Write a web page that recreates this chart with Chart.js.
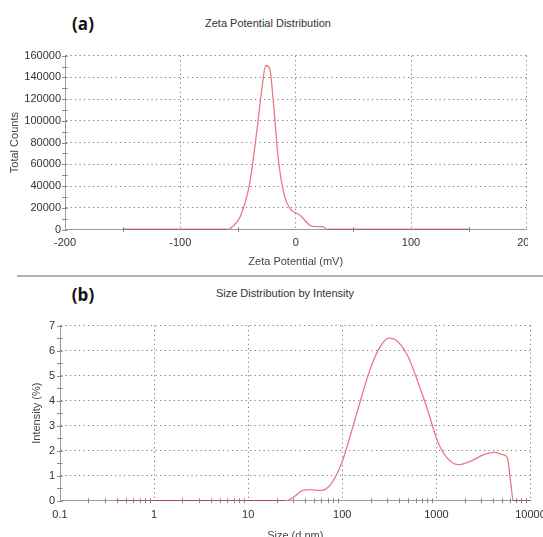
<!DOCTYPE html>
<html>
<head>
<meta charset="utf-8">
<script src="https://cdn.jsdelivr.net/npm/chart.js@4/dist/chart.umd.min.js"></script>
<style>
  html, body { margin: 0; padding: 0; background: #fff; overflow: hidden; }
  body { width: 543px; height: 537px; position: relative; font-family: "Liberation Sans", Arial, sans-serif; }
  .wrap { position: absolute; overflow: hidden; }
  .lbl { position: absolute; transform: translate(-50%, -50%); white-space: nowrap; }
  .panel { font-family: "Open Sans", sans-serif; font-weight: 700; font-size: 17px; color: #111; }
  .ttl { font-size: 11px; color: #333; }
  #sep { position: absolute; left: 17px; top: 275px; width: 526px; height: 2px; background: #b4b4b4; }
</style>
</head>
<body>
<div class="lbl panel" style="left:83px; top:23px;">(a)</div>
<div class="lbl ttl" style="left:268px; top:23px;">Zeta Potential Distribution</div>
<div class="wrap" style="left:0; top:0; width:528px; height:270px;">
  <canvas id="zetaChart" width="560" height="270"></canvas>
</div>
<div id="sep"></div>
<div class="lbl panel" style="left:83px; top:294px;">(b)</div>
<div class="lbl ttl" style="left:285px; top:293px;">Size Distribution by Intensity</div>
<div class="wrap" style="left:0; top:276px; width:543px; height:261px;">
  <canvas id="sizeChart" width="560" height="280"></canvas>
</div>
<script>
// (a) zeta potential
const zetaMv = [-150, -59, -54, -48, -40, -34, -29.5, -26, -22.5, -19.5, -15, -9.5, -5, -3.5, 3.5, 12, 17, 23.5, 27, 150];
const zetaCounts = [0, 0, 3500, 12000, 42000, 88000, 128000, 151000, 148000, 119000, 64000, 30000, 19500, 17500, 13300, 4200, 2600, 2600, 0, 0];
const zetaTicks = [-200, -100, 0, 100, 200];

// (b) size distribution
const sizeNm = [0.4, 25, 31, 38, 45, 60, 72, 85, 100, 118, 153, 197, 254, 313, 387, 499, 643, 828, 1000, 1260, 1700, 2290, 3200, 4120, 5090, 5680, 6170, 6560, 10000];
const intensity = [0, 0, 0.17, 0.41, 0.44, 0.41, 0.57, 0.97, 1.57, 2.44, 3.9, 5.24, 6.17, 6.5, 6.37, 5.77, 4.7, 3.5, 2.5, 1.77, 1.44, 1.57, 1.84, 1.93, 1.84, 1.71, 0.7, 0, 0];
const sizeTicks = [0.1, 1, 10, 100, 1000, 10000];

const lineColor = 'rgb(232,122,132)';
const zeroColor = '#a8323a';
const gridColor = '#7a7a7a';
const axisColor = '#9a9a9a';
const tickFont = { family: '"Liberation Sans", Arial, sans-serif', size: 11 };
const titleFont = { family: '"Liberation Sans", Arial, sans-serif', size: 11 };

// small tick marks across the axes (drawn on top like the instrument software does)
const minorTicks = {
  id: 'minorTicks',
  afterDraw(chart, args, opts) {
    const { ctx, scales: { x, y } } = chart;
    ctx.save();
    ctx.strokeStyle = '#8a8a8a';
    ctx.lineWidth = 1;
    ctx.beginPath();
    opts.xs.forEach(v => {
      const px = Math.round(x.getPixelForValue(v)) + 0.5;
      ctx.moveTo(px, y.bottom - 2.5);
      ctx.lineTo(px, y.bottom + 2.5);
    });
    opts.ys.forEach(v => {
      const py = Math.round(y.getPixelForValue(v)) + 0.5;
      ctx.moveTo(x.left - 3, py);
      ctx.lineTo(x.left + 2.5, py);
    });
    ctx.stroke();
    ctx.restore();
  }
};

const gridCol = c => (c.index === 0 ? 'rgba(0,0,0,0)' : gridColor);
const zeroSeg = c => (c.p0.parsed.y === 0 && c.p1.parsed.y === 0 ? zeroColor : undefined);

function fixWidth(w) {
  return s => { s.width = w; s.paddingTop = 0; s.paddingBottom = 0; };
}
function fixHeight(h) {
  return s => { s.height = h; s.paddingLeft = 0; s.paddingRight = 0; };
}

function makeDataset(xs, ys) {
  return {
    data: xs.map((v, i) => ({ x: v, y: ys[i] })),
    showLine: true,
    borderColor: lineColor,
    borderWidth: 1.3,
    pointRadius: 0,
    cubicInterpolationMode: 'monotone',
    segment: { borderColor: zeroSeg }
  };
}

// zeta chart
const zetaMinorX = [-150, -50, 50, 150];
const zetaMinorY = [];
for (let v = 0; v <= 160000; v += 10000) zetaMinorY.push(v);

new Chart(document.getElementById('zetaChart'), {
  type: 'scatter',
  data: { datasets: [makeDataset(zetaMv, zetaCounts)] },
  options: {
    responsive: false,
    animation: false,
    layout: { padding: { left: 0, top: 55.7, right: 33.6, bottom: 0 } },
    plugins: {
      legend: { display: false },
      tooltip: { enabled: false },
      minorTicks: { xs: zetaMinorX, ys: zetaMinorY }
    },
    scales: {
      x: {
        type: 'linear',
        min: -200,
        max: 200,
        afterBuildTicks: s => { s.ticks = zetaTicks.map(v => ({ value: v })); },
        afterFit: fixHeight(40.5),
        ticks: { font: tickFont, color: '#333', padding: 7, maxRotation: 0, callback: v => String(v) },
        grid: { color: gridCol, drawTicks: false, lineWidth: 1 },
        border: { color: axisColor, width: 1, dash: [1.2, 3.3] },
        title: { display: true, text: 'Zeta Potential (mV)', font: titleFont, color: '#444', padding: { top: 0, bottom: 1.4 } }
      },
      y: {
        min: 0,
        max: 160000,
        ticks: { stepSize: 20000, font: tickFont, color: '#333', padding: 4, callback: v => String(v) },
        afterFit: fixWidth(65),
        grid: { color: gridCol, drawTicks: false, lineWidth: 1 },
        border: { color: axisColor, width: 1, dash: [1.2, 3.3] },
        title: { display: true, text: 'Total Counts', font: titleFont, color: '#444', padding: { top: 8.4, bottom: 0 } }
      }
    }
  },
  plugins: [minorTicks]
});

// size chart
const sizeMinorX = [];
for (let d = 0.1; d < 10000; d *= 10) {
  for (let m = 2; m <= 9; m++) sizeMinorX.push(+(d * m).toPrecision(3));
}
const sizeMinorY = [];
for (let v = 0; v <= 7; v += 0.5) sizeMinorY.push(v);

new Chart(document.getElementById('sizeChart'), {
  type: 'scatter',
  data: { datasets: [makeDataset(sizeNm, intensity)] },
  options: {
    responsive: false,
    animation: false,
    layout: { padding: { left: 0, top: 49.7, right: 29.5, bottom: 0 } },
    plugins: {
      legend: { display: false },
      tooltip: { enabled: false },
      minorTicks: { xs: sizeMinorX, ys: sizeMinorY }
    },
    scales: {
      x: {
        type: 'logarithmic',
        min: 0.1,
        max: 10000,
        afterBuildTicks: s => { s.ticks = sizeTicks.map(v => ({ value: v })); },
        afterFit: fixHeight(55.3),
        ticks: { font: tickFont, color: '#333', padding: 7.5, maxRotation: 0, autoSkip: false, callback: v => String(v) },
        grid: { color: gridCol, drawTicks: false, lineWidth: 1 },
        border: { color: axisColor, width: 1, dash: [1.2, 3.3] },
        title: { display: true, text: 'Size (d.nm)', font: titleFont, color: '#444', padding: { top: 0, bottom: 13.4 } }
      },
      y: {
        min: 0,
        max: 7,
        ticks: { stepSize: 1, font: tickFont, color: '#333', padding: 5, callback: v => String(v) },
        afterFit: fixWidth(60),
        grid: { color: gridCol, drawTicks: false, lineWidth: 1 },
        border: { color: axisColor, width: 1, dash: [1.2, 3.3] },
        title: { display: true, text: 'Intensity (%)', font: titleFont, color: '#444', padding: { top: 30.4, bottom: 0 } }
      }
    }
  },
  plugins: [minorTicks]
});
</script>
</body>
</html>
